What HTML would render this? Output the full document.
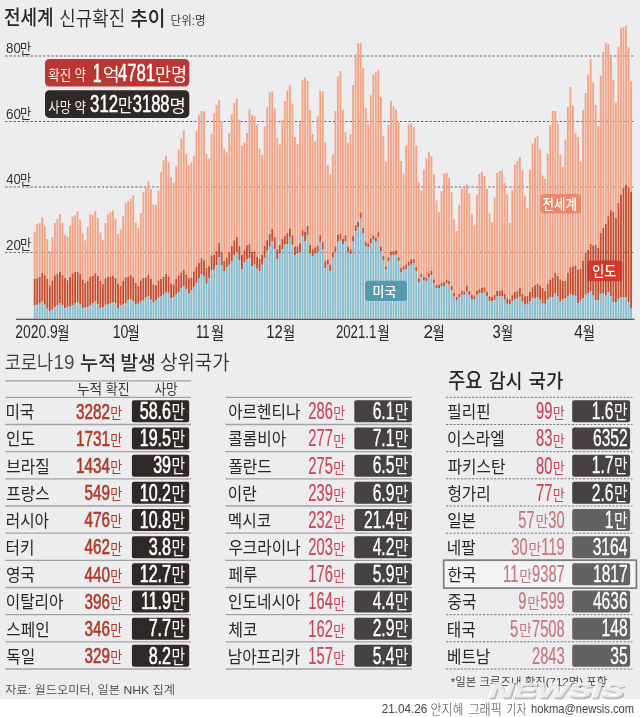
<!DOCTYPE html>
<html lang="ko"><head><meta charset="utf-8"><title>전세계 신규확진 추이</title>
<style>
html,body{margin:0;padding:0;background:#fff;}
body{width:640px;height:717px;overflow:hidden;position:relative;font-family:"Liberation Sans","Noto Sans CJK KR",sans-serif;}
#g{position:absolute;left:0;top:0;width:640px;height:698.8px;background:#ededef;}
svg{position:absolute;left:0;top:0;font-family:"Liberation Sans","Noto Sans CJK KR",sans-serif;}
</style></head><body>
<div id="g"></div>
<svg width="640" height="717" viewBox="0 0 640 717">
<line x1="5.2" y1="56.0" x2="635" y2="56.0" stroke="#656365" stroke-width="1.05" stroke-dasharray="2.3 1.9"/>
<line x1="5.2" y1="121.5" x2="635" y2="121.5" stroke="#656365" stroke-width="1.05" stroke-dasharray="2.3 1.9"/>
<line x1="5.2" y1="186.9" x2="635" y2="186.9" stroke="#656365" stroke-width="1.05" stroke-dasharray="2.3 1.9"/>
<line x1="5.2" y1="252.5" x2="635" y2="252.5" stroke="#656365" stroke-width="1.05" stroke-dasharray="2.3 1.9"/>
<path d="M33.75 231.7h1.85V279h-1.85zM36.28 223.9h1.85V278.3h-1.85zM38.80 223.1h1.85V276.7h-1.85zM41.33 217.2h1.85V273.1h-1.85zM43.86 226.6h1.85V275.2h-1.85zM46.39 239.0h1.85V278.75h-1.85zM48.91 251.0h1.85V285.8h-1.85zM51.44 236.9h1.85V280.6h-1.85zM53.97 223.0h1.85V275.6h-1.85zM56.49 218.8h1.85V273.9h-1.85zM59.02 214.0h1.85V271.7h-1.85zM61.55 222.7h1.85V275.2h-1.85zM64.08 234.8h1.85V278h-1.85zM66.60 236.7h1.85V280.2h-1.85zM69.13 226.0h1.85V277h-1.85zM71.66 216.4h1.85V273.3h-1.85zM74.18 215.3h1.85V272h-1.85zM76.71 211.4h1.85V271.7h-1.85zM79.24 219.4h1.85V274h-1.85zM81.76 233.3h1.85V279.8h-1.85zM84.29 240.6h1.85V283h-1.85zM86.82 227.0h1.85V281h-1.85zM89.35 214.4h1.85V276.4h-1.85zM91.87 214.8h1.85V276h-1.85zM94.40 211.0h1.85V273.3h-1.85zM96.93 218.0h1.85V276h-1.85zM99.45 232.5h1.85V281h-1.85zM101.98 240.3h1.85V284.2h-1.85zM104.51 223.0h1.85V278.3h-1.85zM107.04 214.2h1.85V277h-1.85zM109.56 211.9h1.85V276.7h-1.85zM112.09 210.6h1.85V276h-1.85zM114.62 218.4h1.85V278.3h-1.85zM117.14 233.8h1.85V283.75h-1.85zM119.67 229.4h1.85V286h-1.85zM122.20 216.0h1.85V281h-1.85zM124.73 203.0h1.85V277.2h-1.85zM127.25 201.0h1.85V276.7h-1.85zM129.78 199.0h1.85V275.2h-1.85zM132.31 195.4h1.85V277.5h-1.85zM134.83 222.8h1.85V283h-1.85zM137.36 227.9h1.85V286h-1.85zM139.89 213.0h1.85V280.6h-1.85zM142.42 192.2h1.85V278h-1.85zM144.94 186.5h1.85V277.5h-1.85zM147.47 181.6h1.85V274.7h-1.85zM150.00 189.0h1.85V279h-1.85zM152.52 204.4h1.85V284.5h-1.85zM155.05 205.0h1.85V285.3h-1.85zM157.58 190.6h1.85V280.6h-1.85zM160.10 172.2h1.85V279h-1.85zM162.63 160.2h1.85V277h-1.85zM165.16 155.9h1.85V274h-1.85zM167.69 162.2h1.85V276.4h-1.85zM170.21 176.9h1.85V283.75h-1.85zM172.74 182.5h1.85V284.5h-1.85zM175.27 166.2h1.85V279h-1.85zM177.79 149.7h1.85V275.6h-1.85zM180.32 138.3h1.85V272.5h-1.85zM182.85 130.2h1.85V270h-1.85zM185.38 153.9h1.85V274.4h-1.85zM187.90 164.8h1.85V278.3h-1.85zM190.43 162.5h1.85V277.5h-1.85zM192.96 155.8h1.85V271.6h-1.85zM195.48 131.2h1.85V266.9h-1.85zM198.01 114.8h1.85V263h-1.85zM200.54 110.9h1.85V258h-1.85zM203.07 111.2h1.85V260.3h-1.85zM205.59 153.9h1.85V268h-1.85zM208.12 158.6h1.85V266.25h-1.85zM210.65 134.0h1.85V255.6h-1.85zM213.17 113.3h1.85V254.8h-1.85zM215.70 104.7h1.85V251h-1.85zM218.23 100.3h1.85V242.7h-1.85zM220.76 121.0h1.85V252.3h-1.85zM223.28 148.8h1.85V261.25h-1.85zM225.81 152.4h1.85V257.8h-1.85zM228.34 133.5h1.85V252h-1.85zM230.86 114.2h1.85V246h-1.85zM233.39 103.0h1.85V240.3h-1.85zM235.92 98.6h1.85V237h-1.85zM238.45 119.4h1.85V246h-1.85zM240.97 145.9h1.85V254.7h-1.85zM243.50 142.5h1.85V250.3h-1.85zM246.03 133.1h1.85V245.3h-1.85zM248.55 109.2h1.85V244.2h-1.85zM251.08 115.0h1.85V252h-1.85zM253.61 116.2h1.85V251.6h-1.85zM256.13 124.8h1.85V257h-1.85zM258.66 148.8h1.85V258.6h-1.85zM261.19 155.0h1.85V254.7h-1.85zM263.72 126.4h1.85V246h-1.85zM266.24 107.3h1.85V240.2h-1.85zM268.77 92.5h1.85V233.9h-1.85zM271.30 91.2h1.85V228.9h-1.85zM273.82 108.4h1.85V237.2h-1.85zM276.35 138.1h1.85V249.2h-1.85zM278.88 144.4h1.85V245h-1.85zM281.41 120.2h1.85V239h-1.85zM283.93 101.1h1.85V235.9h-1.85zM286.46 90.2h1.85V233.1h-1.85zM288.99 85.3h1.85V228.4h-1.85zM291.51 103.4h1.85V235.2h-1.85zM294.04 137.0h1.85V246.6h-1.85zM296.57 144.0h1.85V246.6h-1.85zM299.10 122.5h1.85V243.3h-1.85zM301.62 80.3h1.85V230.2h-1.85zM304.15 77.5h1.85V232h-1.85zM306.68 81.1h1.85V226h-1.85zM309.20 110.0h1.85V244.8h-1.85zM311.73 134.0h1.85V249.2h-1.85zM314.26 141.2h1.85V247.3h-1.85zM316.79 116.5h1.85V245.6h-1.85zM319.31 90.7h1.85V235.2h-1.85zM321.84 91.4h1.85V242.2h-1.85zM324.37 142.0h1.85V261.25h-1.85zM326.89 165.2h1.85V259.4h-1.85zM329.42 174.0h1.85V264.4h-1.85zM331.95 154.2h1.85V252.7h-1.85zM334.47 110.9h1.85V246.4h-1.85zM337.00 76.4h1.85V234.7h-1.85zM339.53 71.1h1.85V233.6h-1.85zM342.06 109.7h1.85V239h-1.85zM344.58 132.0h1.85V235.2h-1.85zM347.11 142.8h1.85V246.9h-1.85zM349.64 134.3h1.85V249.2h-1.85zM352.16 85.0h1.85V236.25h-1.85zM354.69 54.2h1.85V225.3h-1.85zM357.22 43.3h1.85V221.9h-1.85zM359.75 43.3h1.85V212.5h-1.85zM362.27 68.0h1.85V228.1h-1.85zM364.80 108.1h1.85V241.7h-1.85zM367.33 124.6h1.85V243.3h-1.85zM369.85 95.2h1.85V238.6h-1.85zM372.38 74.5h1.85V235.5h-1.85zM374.91 72.2h1.85V237.5h-1.85zM377.44 70.2h1.85V232.3h-1.85zM379.96 97.2h1.85V246.6h-1.85zM382.49 136.2h1.85V256.25h-1.85zM385.02 161.6h1.85V266.4h-1.85zM387.54 125.0h1.85V257.3h-1.85zM390.07 100.8h1.85V251.6h-1.85zM392.60 106.2h1.85V251.25h-1.85zM395.13 109.4h1.85V250.3h-1.85zM397.65 121.7h1.85V257.3h-1.85zM400.18 160.9h1.85V268.1h-1.85zM402.71 173.8h1.85V266.25h-1.85zM405.23 145.5h1.85V264.7h-1.85zM407.76 124.6h1.85V261.9h-1.85zM410.29 123.4h1.85V259.2h-1.85zM412.81 126.9h1.85V259.2h-1.85zM415.34 145.3h1.85V267h-1.85zM417.87 182.0h1.85V278.3h-1.85zM420.40 190.2h1.85V274h-1.85zM422.92 169.8h1.85V277h-1.85zM425.45 158.3h1.85V277.5h-1.85zM427.98 151.9h1.85V273.3h-1.85zM430.50 155.9h1.85V270.8h-1.85zM433.03 174.2h1.85V279.4h-1.85zM435.56 200.5h1.85V284.8h-1.85zM438.09 211.9h1.85V284.8h-1.85zM440.61 190.9h1.85V283h-1.85zM443.14 173.4h1.85V282.2h-1.85zM445.67 172.7h1.85V279.8h-1.85zM448.19 178.1h1.85V281h-1.85zM450.72 192.2h1.85V286h-1.85zM453.25 219.2h1.85V292.7h-1.85zM455.78 231.0h1.85V297h-1.85zM458.30 204.8h1.85V294h-1.85zM460.83 188.6h1.85V291h-1.85zM463.36 186.7h1.85V291.5h-1.85zM465.88 184.4h1.85V286h-1.85zM468.41 193.0h1.85V291h-1.85zM470.94 214.0h1.85V295h-1.85zM473.47 224.7h1.85V295.8h-1.85zM475.99 194.8h1.85V290.8h-1.85zM478.52 173.9h1.85V289.2h-1.85zM481.05 171.9h1.85V288h-1.85zM483.57 176.1h1.85V287.2h-1.85zM486.10 189.0h1.85V292h-1.85zM488.63 213.4h1.85V296.25h-1.85zM491.16 222.0h1.85V297h-1.85zM493.68 197.2h1.85V295h-1.85zM496.21 173.0h1.85V291h-1.85zM498.74 171.1h1.85V291h-1.85zM501.26 170.6h1.85V290.3h-1.85zM503.79 183.3h1.85V293.9h-1.85zM506.32 194.5h1.85V298.6h-1.85zM508.84 223.0h1.85V299.4h-1.85zM511.37 189.8h1.85V295.2h-1.85zM513.90 164.8h1.85V291.9h-1.85zM516.43 160.9h1.85V291.25h-1.85zM518.95 157.3h1.85V287.7h-1.85zM521.48 170.3h1.85V293.9h-1.85zM524.01 195.6h1.85V296.25h-1.85zM526.53 207.8h1.85V296h-1.85zM529.06 169.5h1.85V292h-1.85zM531.59 143.4h1.85V287.2h-1.85zM534.12 138.3h1.85V285.3h-1.85zM536.64 136.2h1.85V283.75h-1.85zM539.17 149.2h1.85V285.6h-1.85zM541.70 175.5h1.85V288h-1.85zM544.22 178.9h1.85V291h-1.85zM546.75 153.4h1.85V283.75h-1.85zM549.28 125.0h1.85V279.8h-1.85zM551.81 110.9h1.85V278h-1.85zM554.33 110.9h1.85V273h-1.85zM556.86 123.8h1.85V276h-1.85zM559.39 154.4h1.85V279.4h-1.85zM561.91 166.9h1.85V281h-1.85zM564.44 139.4h1.85V281h-1.85zM566.97 106.7h1.85V272.8h-1.85zM569.50 87.0h1.85V267.3h-1.85zM572.02 105.3h1.85V266.25h-1.85zM574.55 133.1h1.85V265.5h-1.85zM577.08 137.0h1.85V269.7h-1.85zM579.60 161.4h1.85V269h-1.85zM582.13 110.3h1.85V261h-1.85zM584.66 93.0h1.85V253h-1.85zM587.18 74.7h1.85V250h-1.85zM589.71 59.0h1.85V244h-1.85zM592.24 82.5h1.85V245.6h-1.85zM594.77 105.0h1.85V244.75h-1.85zM597.29 126.0h1.85V248h-1.85zM599.82 75.5h1.85V233h-1.85zM602.35 52.0h1.85V228h-1.85zM604.87 42.7h1.85V224h-1.85zM607.40 44.0h1.85V216h-1.85zM609.93 56.0h1.85V210.25h-1.85zM612.46 79.7h1.85V212h-1.85zM614.98 102.5h1.85V218h-1.85zM617.51 46.6h1.85V203h-1.85zM620.04 28.0h1.85V194.4h-1.85zM622.56 27.0h1.85V188h-1.85zM625.09 25.5h1.85V184.4h-1.85zM627.62 47.3h1.85V187.5h-1.85zM630.15 81.3h1.85V191.9h-1.85z" fill="#f4a385"/>
<path d="M33.75 279.0h1.85V305.3h-1.85zM36.28 278.3h1.85V304.8h-1.85zM38.80 276.7h1.85V303.6h-1.85zM41.33 273.1h1.85V301.4h-1.85zM43.86 275.2h1.85V304.8h-1.85zM46.39 278.8h1.85V308.75h-1.85zM48.91 285.8h1.85V311h-1.85zM51.44 280.6h1.85V309.8h-1.85zM53.97 275.6h1.85V306.9h-1.85zM56.49 273.9h1.85V305.6h-1.85zM59.02 271.7h1.85V303.3h-1.85zM61.55 275.2h1.85V305.6h-1.85zM64.08 278.0h1.85V308.3h-1.85zM66.60 280.2h1.85V306.7h-1.85zM69.13 277.0h1.85V306.7h-1.85zM71.66 273.3h1.85V305.6h-1.85zM74.18 272.0h1.85V303.6h-1.85zM76.71 271.7h1.85V302h-1.85zM79.24 274.0h1.85V304h-1.85zM81.76 279.8h1.85V308h-1.85zM84.29 283.0h1.85V307.5h-1.85zM86.82 281.0h1.85V306.9h-1.85zM89.35 276.4h1.85V305.2h-1.85zM91.87 276.0h1.85V303.6h-1.85zM94.40 273.3h1.85V300.9h-1.85zM96.93 276.0h1.85V304h-1.85zM99.45 281.0h1.85V308.3h-1.85zM101.98 284.2h1.85V307.2h-1.85zM104.51 278.3h1.85V304.8h-1.85zM107.04 277.0h1.85V304.5h-1.85zM109.56 276.7h1.85V303.3h-1.85zM112.09 276.0h1.85V302h-1.85zM114.62 278.3h1.85V303.3h-1.85zM117.14 283.8h1.85V308h-1.85zM119.67 286.0h1.85V305.6h-1.85zM122.20 281.0h1.85V304.5h-1.85zM124.73 277.2h1.85V303h-1.85zM127.25 276.7h1.85V300.2h-1.85zM129.78 275.2h1.85V299.4h-1.85zM132.31 277.5h1.85V301h-1.85zM134.83 283.0h1.85V304.8h-1.85zM137.36 286.0h1.85V303.75h-1.85zM139.89 280.6h1.85V301h-1.85zM142.42 278.0h1.85V300.2h-1.85zM144.94 277.5h1.85V297h-1.85zM147.47 274.7h1.85V296h-1.85zM150.00 279.0h1.85V299.8h-1.85zM152.52 284.5h1.85V302.5h-1.85zM155.05 285.3h1.85V300.2h-1.85zM157.58 280.6h1.85V297.8h-1.85zM160.10 279.0h1.85V296.6h-1.85zM162.63 277.0h1.85V294.7h-1.85zM165.16 274.0h1.85V291.9h-1.85zM167.69 276.4h1.85V292.7h-1.85zM170.21 283.8h1.85V298.6h-1.85zM172.74 284.5h1.85V297h-1.85zM175.27 279.0h1.85V293.9h-1.85zM177.79 275.6h1.85V292h-1.85zM180.32 272.5h1.85V288.4h-1.85zM182.85 270.0h1.85V286h-1.85zM185.38 274.4h1.85V289.2h-1.85zM187.90 278.3h1.85V293.6h-1.85zM190.43 277.5h1.85V290.5h-1.85zM192.96 271.6h1.85V286.9h-1.85zM195.48 266.9h1.85V283h-1.85zM198.01 263.0h1.85V278.3h-1.85zM200.54 258.0h1.85V274.4h-1.85zM203.07 260.3h1.85V276h-1.85zM205.59 268.0h1.85V283.75h-1.85zM208.12 266.2h1.85V278.3h-1.85zM210.65 255.6h1.85V270h-1.85zM213.17 254.8h1.85V269.7h-1.85zM215.70 251.0h1.85V265h-1.85zM218.23 242.7h1.85V257.2h-1.85zM220.76 252.3h1.85V265.6h-1.85zM223.28 261.2h1.85V271h-1.85zM225.81 257.8h1.85V267.2h-1.85zM228.34 252.0h1.85V264.8h-1.85zM230.86 246.0h1.85V261h-1.85zM233.39 240.3h1.85V255.5h-1.85zM235.92 237.0h1.85V252.3h-1.85zM238.45 246.0h1.85V260h-1.85zM240.97 254.7h1.85V269.5h-1.85zM243.50 250.3h1.85V262h-1.85zM246.03 245.3h1.85V259.4h-1.85zM248.55 244.2h1.85V258.6h-1.85zM251.08 252.0h1.85V266h-1.85zM253.61 251.6h1.85V264.8h-1.85zM256.13 257.0h1.85V268.75h-1.85zM258.66 258.6h1.85V271h-1.85zM261.19 254.7h1.85V264.8h-1.85zM263.72 246.0h1.85V257.8h-1.85zM266.24 240.2h1.85V250.8h-1.85zM268.77 233.9h1.85V246h-1.85zM271.30 228.9h1.85V241h-1.85zM273.82 237.2h1.85V249.2h-1.85zM276.35 249.2h1.85V259h-1.85zM278.88 245.0h1.85V253.6h-1.85zM281.41 239.0h1.85V249.2h-1.85zM283.93 235.9h1.85V244.5h-1.85zM286.46 233.1h1.85V244.5h-1.85zM288.99 228.4h1.85V237.5h-1.85zM291.51 235.2h1.85V244.8h-1.85zM294.04 246.6h1.85V255.5h-1.85zM296.57 246.6h1.85V253.4h-1.85zM299.10 243.3h1.85V252h-1.85zM301.62 230.2h1.85V236.25h-1.85zM304.15 232.0h1.85V241h-1.85zM306.68 226.0h1.85V235.2h-1.85zM309.20 244.8h1.85V253h-1.85zM311.73 249.2h1.85V256h-1.85zM314.26 247.3h1.85V253h-1.85zM316.79 245.6h1.85V252.3h-1.85zM319.31 235.2h1.85V242.2h-1.85zM321.84 242.2h1.85V249.7h-1.85zM324.37 261.2h1.85V268.3h-1.85zM326.89 259.4h1.85V264.8h-1.85zM329.42 264.4h1.85V271h-1.85zM331.95 252.7h1.85V257.8h-1.85zM334.47 246.4h1.85V252.3h-1.85zM337.00 234.7h1.85V241.7h-1.85zM339.53 233.6h1.85V239.8h-1.85zM342.06 239.0h1.85V244h-1.85zM344.58 235.2h1.85V241.4h-1.85zM347.11 246.9h1.85V252h-1.85zM349.64 249.2h1.85V254h-1.85zM352.16 236.2h1.85V241.4h-1.85zM354.69 225.3h1.85V231.25h-1.85zM357.22 221.9h1.85V226.9h-1.85zM359.75 212.5h1.85V218.4h-1.85zM362.27 228.1h1.85V233.6h-1.85zM364.80 241.7h1.85V246.4h-1.85zM367.33 243.3h1.85V247.3h-1.85zM369.85 238.6h1.85V243h-1.85zM372.38 235.5h1.85V239.8h-1.85zM374.91 237.5h1.85V241.7h-1.85zM377.44 232.3h1.85V237h-1.85zM379.96 246.6h1.85V251.25h-1.85zM382.49 256.2h1.85V260.2h-1.85zM385.02 266.4h1.85V269.5h-1.85zM387.54 257.3h1.85V261.25h-1.85zM390.07 251.6h1.85V255.5h-1.85zM392.60 251.2h1.85V255h-1.85zM395.13 250.3h1.85V254.7h-1.85zM397.65 257.3h1.85V261.25h-1.85zM400.18 268.1h1.85V272h-1.85zM402.71 266.2h1.85V269.7h-1.85zM405.23 264.7h1.85V269h-1.85zM407.76 261.9h1.85V265.8h-1.85zM410.29 259.2h1.85V264.7h-1.85zM412.81 259.2h1.85V263h-1.85zM415.34 267.0h1.85V271h-1.85zM417.87 278.3h1.85V282.2h-1.85zM420.40 274.0h1.85V277.2h-1.85zM422.92 277.0h1.85V280.6h-1.85zM425.45 277.5h1.85V281.4h-1.85zM427.98 273.3h1.85V277.2h-1.85zM430.50 270.8h1.85V275.2h-1.85zM433.03 279.4h1.85V283.3h-1.85zM435.56 284.8h1.85V288.4h-1.85zM438.09 284.8h1.85V288h-1.85zM440.61 283.0h1.85V286h-1.85zM443.14 282.2h1.85V286h-1.85zM445.67 279.8h1.85V283.3h-1.85zM448.19 281.0h1.85V284.8h-1.85zM450.72 286.0h1.85V290h-1.85zM453.25 292.7h1.85V296.7h-1.85zM455.78 297.0h1.85V300.2h-1.85zM458.30 294.0h1.85V297.3h-1.85zM460.83 291.0h1.85V294.7h-1.85zM463.36 291.5h1.85V295.2h-1.85zM465.88 286.0h1.85V291h-1.85zM468.41 291.0h1.85V295.2h-1.85zM470.94 295.0h1.85V299.4h-1.85zM473.47 295.8h1.85V299.8h-1.85zM475.99 290.8h1.85V294.7h-1.85zM478.52 289.2h1.85V293.6h-1.85zM481.05 288.0h1.85V293h-1.85zM483.57 287.2h1.85V292.3h-1.85zM486.10 292.0h1.85V296.6h-1.85zM488.63 296.2h1.85V301h-1.85zM491.16 297.0h1.85V301.25h-1.85zM493.68 295.0h1.85V300.2h-1.85zM496.21 291.0h1.85V296.6h-1.85zM498.74 291.0h1.85V296.6h-1.85zM501.26 290.3h1.85V296.25h-1.85zM503.79 293.9h1.85V299.8h-1.85zM506.32 298.6h1.85V303.75h-1.85zM508.84 299.4h1.85V304.4h-1.85zM511.37 295.2h1.85V301h-1.85zM513.90 291.9h1.85V298.9h-1.85zM516.43 291.2h1.85V298.6h-1.85zM518.95 287.7h1.85V296.7h-1.85zM521.48 293.9h1.85V301.7h-1.85zM524.01 296.2h1.85V304.8h-1.85zM526.53 296.0h1.85V303.75h-1.85zM529.06 292.0h1.85V301h-1.85zM531.59 287.2h1.85V298.6h-1.85zM534.12 285.3h1.85V298.6h-1.85zM536.64 283.8h1.85V297.3h-1.85zM539.17 285.6h1.85V299.8h-1.85zM541.70 288.0h1.85V303.6h-1.85zM544.22 291.0h1.85V303.75h-1.85zM546.75 283.8h1.85V299.4h-1.85zM549.28 279.8h1.85V297h-1.85zM551.81 278.0h1.85V297h-1.85zM554.33 273.0h1.85V293.6h-1.85zM556.86 276.0h1.85V296.25h-1.85zM559.39 279.4h1.85V301.7h-1.85zM561.91 281.0h1.85V299.4h-1.85zM564.44 281.0h1.85V298.6h-1.85zM566.97 272.8h1.85V296h-1.85zM569.50 267.3h1.85V293.9h-1.85zM572.02 266.2h1.85V295h-1.85zM574.55 265.5h1.85V295.8h-1.85zM577.08 269.7h1.85V303.3h-1.85zM579.60 269.0h1.85V300.6h-1.85zM582.13 261.0h1.85V298.6h-1.85zM584.66 253.0h1.85V294.75h-1.85zM587.18 250.0h1.85V292.9h-1.85zM589.71 244.0h1.85V291.25h-1.85zM592.24 245.6h1.85V295.6h-1.85zM594.77 244.8h1.85V300h-1.85zM597.29 248.0h1.85V300.4h-1.85zM599.82 233.0h1.85V293.75h-1.85zM602.35 228.0h1.85V293.4h-1.85zM604.87 224.0h1.85V295h-1.85zM607.40 216.0h1.85V292.25h-1.85zM609.93 210.2h1.85V296h-1.85zM612.46 212.0h1.85V301.9h-1.85zM614.98 218.0h1.85V301.9h-1.85zM617.51 203.0h1.85V299h-1.85zM620.04 194.4h1.85V297.5h-1.85zM622.56 188.0h1.85V296.9h-1.85zM625.09 184.4h1.85V297.25h-1.85zM627.62 187.5h1.85V301.9h-1.85zM630.15 191.9h1.85V307.9h-1.85z" fill="#c84b2b"/>
<path d="M33.75 305.3h1.85V318.6h-1.85zM36.28 304.8h1.85V318.6h-1.85zM38.80 303.6h1.85V318.6h-1.85zM41.33 301.4h1.85V318.6h-1.85zM43.86 304.8h1.85V318.6h-1.85zM46.39 308.8h1.85V318.6h-1.85zM48.91 311.0h1.85V318.6h-1.85zM51.44 309.8h1.85V318.6h-1.85zM53.97 306.9h1.85V318.6h-1.85zM56.49 305.6h1.85V318.6h-1.85zM59.02 303.3h1.85V318.6h-1.85zM61.55 305.6h1.85V318.6h-1.85zM64.08 308.3h1.85V318.6h-1.85zM66.60 306.7h1.85V318.6h-1.85zM69.13 306.7h1.85V318.6h-1.85zM71.66 305.6h1.85V318.6h-1.85zM74.18 303.6h1.85V318.6h-1.85zM76.71 302.0h1.85V318.6h-1.85zM79.24 304.0h1.85V318.6h-1.85zM81.76 308.0h1.85V318.6h-1.85zM84.29 307.5h1.85V318.6h-1.85zM86.82 306.9h1.85V318.6h-1.85zM89.35 305.2h1.85V318.6h-1.85zM91.87 303.6h1.85V318.6h-1.85zM94.40 300.9h1.85V318.6h-1.85zM96.93 304.0h1.85V318.6h-1.85zM99.45 308.3h1.85V318.6h-1.85zM101.98 307.2h1.85V318.6h-1.85zM104.51 304.8h1.85V318.6h-1.85zM107.04 304.5h1.85V318.6h-1.85zM109.56 303.3h1.85V318.6h-1.85zM112.09 302.0h1.85V318.6h-1.85zM114.62 303.3h1.85V318.6h-1.85zM117.14 308.0h1.85V318.6h-1.85zM119.67 305.6h1.85V318.6h-1.85zM122.20 304.5h1.85V318.6h-1.85zM124.73 303.0h1.85V318.6h-1.85zM127.25 300.2h1.85V318.6h-1.85zM129.78 299.4h1.85V318.6h-1.85zM132.31 301.0h1.85V318.6h-1.85zM134.83 304.8h1.85V318.6h-1.85zM137.36 303.8h1.85V318.6h-1.85zM139.89 301.0h1.85V318.6h-1.85zM142.42 300.2h1.85V318.6h-1.85zM144.94 297.0h1.85V318.6h-1.85zM147.47 296.0h1.85V318.6h-1.85zM150.00 299.8h1.85V318.6h-1.85zM152.52 302.5h1.85V318.6h-1.85zM155.05 300.2h1.85V318.6h-1.85zM157.58 297.8h1.85V318.6h-1.85zM160.10 296.6h1.85V318.6h-1.85zM162.63 294.7h1.85V318.6h-1.85zM165.16 291.9h1.85V318.6h-1.85zM167.69 292.7h1.85V318.6h-1.85zM170.21 298.6h1.85V318.6h-1.85zM172.74 297.0h1.85V318.6h-1.85zM175.27 293.9h1.85V318.6h-1.85zM177.79 292.0h1.85V318.6h-1.85zM180.32 288.4h1.85V318.6h-1.85zM182.85 286.0h1.85V318.6h-1.85zM185.38 289.2h1.85V318.6h-1.85zM187.90 293.6h1.85V318.6h-1.85zM190.43 290.5h1.85V318.6h-1.85zM192.96 286.9h1.85V318.6h-1.85zM195.48 283.0h1.85V318.6h-1.85zM198.01 278.3h1.85V318.6h-1.85zM200.54 274.4h1.85V318.6h-1.85zM203.07 276.0h1.85V318.6h-1.85zM205.59 283.8h1.85V318.6h-1.85zM208.12 278.3h1.85V318.6h-1.85zM210.65 270.0h1.85V318.6h-1.85zM213.17 269.7h1.85V318.6h-1.85zM215.70 265.0h1.85V318.6h-1.85zM218.23 257.2h1.85V318.6h-1.85zM220.76 265.6h1.85V318.6h-1.85zM223.28 271.0h1.85V318.6h-1.85zM225.81 267.2h1.85V318.6h-1.85zM228.34 264.8h1.85V318.6h-1.85zM230.86 261.0h1.85V318.6h-1.85zM233.39 255.5h1.85V318.6h-1.85zM235.92 252.3h1.85V318.6h-1.85zM238.45 260.0h1.85V318.6h-1.85zM240.97 269.5h1.85V318.6h-1.85zM243.50 262.0h1.85V318.6h-1.85zM246.03 259.4h1.85V318.6h-1.85zM248.55 258.6h1.85V318.6h-1.85zM251.08 266.0h1.85V318.6h-1.85zM253.61 264.8h1.85V318.6h-1.85zM256.13 268.8h1.85V318.6h-1.85zM258.66 271.0h1.85V318.6h-1.85zM261.19 264.8h1.85V318.6h-1.85zM263.72 257.8h1.85V318.6h-1.85zM266.24 250.8h1.85V318.6h-1.85zM268.77 246.0h1.85V318.6h-1.85zM271.30 241.0h1.85V318.6h-1.85zM273.82 249.2h1.85V318.6h-1.85zM276.35 259.0h1.85V318.6h-1.85zM278.88 253.6h1.85V318.6h-1.85zM281.41 249.2h1.85V318.6h-1.85zM283.93 244.5h1.85V318.6h-1.85zM286.46 244.5h1.85V318.6h-1.85zM288.99 237.5h1.85V318.6h-1.85zM291.51 244.8h1.85V318.6h-1.85zM294.04 255.5h1.85V318.6h-1.85zM296.57 253.4h1.85V318.6h-1.85zM299.10 252.0h1.85V318.6h-1.85zM301.62 236.2h1.85V318.6h-1.85zM304.15 241.0h1.85V318.6h-1.85zM306.68 235.2h1.85V318.6h-1.85zM309.20 253.0h1.85V318.6h-1.85zM311.73 256.0h1.85V318.6h-1.85zM314.26 253.0h1.85V318.6h-1.85zM316.79 252.3h1.85V318.6h-1.85zM319.31 242.2h1.85V318.6h-1.85zM321.84 249.7h1.85V318.6h-1.85zM324.37 268.3h1.85V318.6h-1.85zM326.89 264.8h1.85V318.6h-1.85zM329.42 271.0h1.85V318.6h-1.85zM331.95 257.8h1.85V318.6h-1.85zM334.47 252.3h1.85V318.6h-1.85zM337.00 241.7h1.85V318.6h-1.85zM339.53 239.8h1.85V318.6h-1.85zM342.06 244.0h1.85V318.6h-1.85zM344.58 241.4h1.85V318.6h-1.85zM347.11 252.0h1.85V318.6h-1.85zM349.64 254.0h1.85V318.6h-1.85zM352.16 241.4h1.85V318.6h-1.85zM354.69 231.2h1.85V318.6h-1.85zM357.22 226.9h1.85V318.6h-1.85zM359.75 218.4h1.85V318.6h-1.85zM362.27 233.6h1.85V318.6h-1.85zM364.80 246.4h1.85V318.6h-1.85zM367.33 247.3h1.85V318.6h-1.85zM369.85 243.0h1.85V318.6h-1.85zM372.38 239.8h1.85V318.6h-1.85zM374.91 241.7h1.85V318.6h-1.85zM377.44 237.0h1.85V318.6h-1.85zM379.96 251.2h1.85V318.6h-1.85zM382.49 260.2h1.85V318.6h-1.85zM385.02 269.5h1.85V318.6h-1.85zM387.54 261.2h1.85V318.6h-1.85zM390.07 255.5h1.85V318.6h-1.85zM392.60 255.0h1.85V318.6h-1.85zM395.13 254.7h1.85V318.6h-1.85zM397.65 261.2h1.85V318.6h-1.85zM400.18 272.0h1.85V318.6h-1.85zM402.71 269.7h1.85V318.6h-1.85zM405.23 269.0h1.85V318.6h-1.85zM407.76 265.8h1.85V318.6h-1.85zM410.29 264.7h1.85V318.6h-1.85zM412.81 263.0h1.85V318.6h-1.85zM415.34 271.0h1.85V318.6h-1.85zM417.87 282.2h1.85V318.6h-1.85zM420.40 277.2h1.85V318.6h-1.85zM422.92 280.6h1.85V318.6h-1.85zM425.45 281.4h1.85V318.6h-1.85zM427.98 277.2h1.85V318.6h-1.85zM430.50 275.2h1.85V318.6h-1.85zM433.03 283.3h1.85V318.6h-1.85zM435.56 288.4h1.85V318.6h-1.85zM438.09 288.0h1.85V318.6h-1.85zM440.61 286.0h1.85V318.6h-1.85zM443.14 286.0h1.85V318.6h-1.85zM445.67 283.3h1.85V318.6h-1.85zM448.19 284.8h1.85V318.6h-1.85zM450.72 290.0h1.85V318.6h-1.85zM453.25 296.7h1.85V318.6h-1.85zM455.78 300.2h1.85V318.6h-1.85zM458.30 297.3h1.85V318.6h-1.85zM460.83 294.7h1.85V318.6h-1.85zM463.36 295.2h1.85V318.6h-1.85zM465.88 291.0h1.85V318.6h-1.85zM468.41 295.2h1.85V318.6h-1.85zM470.94 299.4h1.85V318.6h-1.85zM473.47 299.8h1.85V318.6h-1.85zM475.99 294.7h1.85V318.6h-1.85zM478.52 293.6h1.85V318.6h-1.85zM481.05 293.0h1.85V318.6h-1.85zM483.57 292.3h1.85V318.6h-1.85zM486.10 296.6h1.85V318.6h-1.85zM488.63 301.0h1.85V318.6h-1.85zM491.16 301.2h1.85V318.6h-1.85zM493.68 300.2h1.85V318.6h-1.85zM496.21 296.6h1.85V318.6h-1.85zM498.74 296.6h1.85V318.6h-1.85zM501.26 296.2h1.85V318.6h-1.85zM503.79 299.8h1.85V318.6h-1.85zM506.32 303.8h1.85V318.6h-1.85zM508.84 304.4h1.85V318.6h-1.85zM511.37 301.0h1.85V318.6h-1.85zM513.90 298.9h1.85V318.6h-1.85zM516.43 298.6h1.85V318.6h-1.85zM518.95 296.7h1.85V318.6h-1.85zM521.48 301.7h1.85V318.6h-1.85zM524.01 304.8h1.85V318.6h-1.85zM526.53 303.8h1.85V318.6h-1.85zM529.06 301.0h1.85V318.6h-1.85zM531.59 298.6h1.85V318.6h-1.85zM534.12 298.6h1.85V318.6h-1.85zM536.64 297.3h1.85V318.6h-1.85zM539.17 299.8h1.85V318.6h-1.85zM541.70 303.6h1.85V318.6h-1.85zM544.22 303.8h1.85V318.6h-1.85zM546.75 299.4h1.85V318.6h-1.85zM549.28 297.0h1.85V318.6h-1.85zM551.81 297.0h1.85V318.6h-1.85zM554.33 293.6h1.85V318.6h-1.85zM556.86 296.2h1.85V318.6h-1.85zM559.39 301.7h1.85V318.6h-1.85zM561.91 299.4h1.85V318.6h-1.85zM564.44 298.6h1.85V318.6h-1.85zM566.97 296.0h1.85V318.6h-1.85zM569.50 293.9h1.85V318.6h-1.85zM572.02 295.0h1.85V318.6h-1.85zM574.55 295.8h1.85V318.6h-1.85zM577.08 303.3h1.85V318.6h-1.85zM579.60 300.6h1.85V318.6h-1.85zM582.13 298.6h1.85V318.6h-1.85zM584.66 294.8h1.85V318.6h-1.85zM587.18 292.9h1.85V318.6h-1.85zM589.71 291.2h1.85V318.6h-1.85zM592.24 295.6h1.85V318.6h-1.85zM594.77 300.0h1.85V318.6h-1.85zM597.29 300.4h1.85V318.6h-1.85zM599.82 293.8h1.85V318.6h-1.85zM602.35 293.4h1.85V318.6h-1.85zM604.87 295.0h1.85V318.6h-1.85zM607.40 292.2h1.85V318.6h-1.85zM609.93 296.0h1.85V318.6h-1.85zM612.46 301.9h1.85V318.6h-1.85zM614.98 301.9h1.85V318.6h-1.85zM617.51 299.0h1.85V318.6h-1.85zM620.04 297.5h1.85V318.6h-1.85zM622.56 296.9h1.85V318.6h-1.85zM625.09 297.2h1.85V318.6h-1.85zM627.62 301.9h1.85V318.6h-1.85zM630.15 307.9h1.85V318.6h-1.85z" fill="#86bccd"/>
<line x1="16" y1="319.3" x2="634.5" y2="319.3" stroke="#2b2523" stroke-width="1.1"/>
<text transform="translate(6.07 53.45) scale(0.874 1)" font-size="15.24" font-weight="400" fill="#3a302e">80</text>
<text transform="translate(20.06 54.03) scale(0.845 1)" font-size="14.49" font-weight="400" fill="#3a302e">만</text>
<text transform="translate(5.93 118.90) scale(0.876 1)" font-size="15.35" font-weight="400" fill="#3a302e">60</text>
<text transform="translate(20.06 119.48) scale(0.845 1)" font-size="14.49" font-weight="400" fill="#3a302e">만</text>
<text transform="translate(6.34 184.35) scale(0.851 1)" font-size="15.35" font-weight="400" fill="#3a302e">40</text>
<text transform="translate(20.06 184.93) scale(0.845 1)" font-size="14.49" font-weight="400" fill="#3a302e">만</text>
<text transform="translate(5.93 249.80) scale(0.876 1)" font-size="15.35" font-weight="400" fill="#3a302e">20</text>
<text transform="translate(20.06 250.38) scale(0.845 1)" font-size="14.49" font-weight="400" fill="#3a302e">만</text>
<text transform="translate(15.30 338.22) scale(0.790 1)" font-size="17.61" font-weight="400" fill="#2b2523">2020.9</text>
<text transform="translate(57.20 338.72) scale(0.787 1)" font-size="16.89" font-weight="400" fill="#2b2523">월</text>
<text transform="translate(112.64 338.22) scale(0.806 1)" font-size="17.61" font-weight="400" fill="#2b2523">10</text>
<text transform="translate(127.60 338.72) scale(0.787 1)" font-size="16.89" font-weight="400" fill="#2b2523">월</text>
<text transform="translate(195.92 338.40) scale(0.722 1)" font-size="18.12" font-weight="400" fill="#2b2523">11</text>
<text transform="translate(210.96 338.72) scale(0.848 1)" font-size="16.89" font-weight="400" fill="#2b2523">월</text>
<text transform="translate(266.19 338.40) scale(0.831 1)" font-size="17.86" font-weight="400" fill="#2b2523">12</text>
<text transform="translate(283.10 338.72) scale(0.787 1)" font-size="16.89" font-weight="400" fill="#2b2523">월</text>
<text transform="translate(335.94 338.22) scale(0.748 1)" font-size="17.61" font-weight="400" fill="#2b2523">2021.1</text>
<text transform="translate(377.60 338.72) scale(0.787 1)" font-size="16.89" font-weight="400" fill="#2b2523">월</text>
<text transform="translate(423.44 338.40) scale(0.962 1)" font-size="17.86" font-weight="400" fill="#2b2523">2</text>
<text transform="translate(432.50 338.72) scale(0.787 1)" font-size="16.89" font-weight="400" fill="#2b2523">월</text>
<text transform="translate(492.38 338.22) scale(0.840 1)" font-size="17.61" font-weight="400" fill="#2b2523">3</text>
<text transform="translate(500.90 338.72) scale(0.787 1)" font-size="16.89" font-weight="400" fill="#2b2523">월</text>
<text transform="translate(574.29 338.31) scale(0.861 1)" font-size="17.99" font-weight="400" fill="#2b2523">4</text>
<text transform="translate(582.85 338.72) scale(0.787 1)" font-size="16.89" font-weight="400" fill="#2b2523">월</text>
<rect x="540.5" y="194" width="40.5" height="19.6" rx="3.5" fill="#e97c5f" fill-opacity="0.8"/>
<text transform="translate(542.60 208.57) scale(0.940 1)" font-size="13.26" font-weight="500" fill="#fff">전세계</text>
<rect x="365" y="280.8" width="42" height="20.2" rx="3.5" fill="#4a94a9" fill-opacity="0.88"/>
<text transform="translate(372.58 296.07) scale(1.041 1)" font-size="12.54" font-weight="500" fill="#fff">미국</text>
<rect x="587" y="260.6" width="35.3" height="20.6" rx="3.5" fill="#d2362a" fill-opacity="0.93"/>
<text transform="translate(592.32 276.37) scale(0.953 1)" font-size="13.61" font-weight="500" fill="#fff">인도</text>
<text transform="translate(3.98 25.47) scale(0.885 1)" font-size="20.33" font-weight="500" fill="#2b2523">전세계</text>
<text transform="translate(59.32 25.76) scale(0.872 1)" font-size="20.55" font-weight="350" fill="#2f2a29">신규확진</text>
<text transform="translate(130.13 25.54) scale(0.930 1)" font-size="20.70" font-weight="500" fill="#2b2523">추이</text>
<text transform="translate(170.57 25.06) scale(0.939 1)" font-size="12.24" font-weight="400" fill="#3a3432">단위:명</text>
<rect x="45" y="59" width="144.3" height="27.6" rx="4.5" fill="#b93733"/>
<rect x="45" y="90.3" width="144.3" height="27.6" rx="4.5" fill="#2e2826"/>
<text transform="translate(48.25 80.40) scale(0.883 1)" font-size="14.16" font-weight="400" fill="#fde9e6">확진</text>
<text transform="translate(74.59 80.38) scale(0.869 1)" font-size="14.32" font-weight="400" fill="#fde9e6">약</text>
<text transform="translate(92.74 81.55) scale(0.640 1)" font-size="25.00" font-weight="400" fill="#fff" stroke="#fff" stroke-width="0.5" stroke-linejoin="round" vector-effect="non-scaling-stroke">1</text>
<text transform="translate(102.64 81.04) scale(1.004 1)" font-size="18.36" font-weight="400" fill="#fff">억</text>
<text transform="translate(118.07 81.46) scale(0.680 1)" font-size="24.48" font-weight="400" fill="#fff" stroke="#fff" stroke-width="0.5" stroke-linejoin="round" vector-effect="non-scaling-stroke">4781</text>
<text transform="translate(155.02 81.14) scale(0.956 1)" font-size="18.24" font-weight="400" fill="#fff">만명</text>
<text transform="translate(48.32 111.74) scale(0.909 1)" font-size="13.66" font-weight="400" fill="#f3f1f1">사망 약</text>
<text transform="translate(90.11 112.46) scale(0.696 1)" font-size="24.08" font-weight="400" fill="#fff" stroke="#fff" stroke-width="0.5" stroke-linejoin="round" vector-effect="non-scaling-stroke">312</text>
<text transform="translate(117.96 112.08) scale(0.844 1)" font-size="18.65" font-weight="400" fill="#fff">만</text>
<text transform="translate(132.82 112.37) scale(0.703 1)" font-size="23.50" font-weight="400" fill="#fff" stroke="#fff" stroke-width="0.5" stroke-linejoin="round" vector-effect="non-scaling-stroke">3188</text>
<text transform="translate(169.50 111.80) scale(1.016 1)" font-size="17.47" font-weight="400" fill="#fff">명</text>
<text transform="translate(4.73 370.15) scale(0.877 1)" font-size="19.95" font-weight="350" fill="#3f3b3b">코로나</text>
<text transform="translate(53.58 369.30) scale(0.959 1)" font-size="19.72" font-weight="400" fill="#4f4b4b">19</text>
<text transform="translate(80.11 370.25) scale(1.012 1)" font-size="19.46" font-weight="500" fill="#332f2f">누적</text>
<text transform="translate(120.14 370.34) scale(0.995 1)" font-size="19.57" font-weight="500" fill="#332f2f">발생</text>
<text transform="translate(160.15 370.38) scale(0.932 1)" font-size="20.22" font-weight="350" fill="#332f2f">상위국가</text>
<text transform="translate(448.26 387.60) scale(0.878 1)" font-size="21.16" font-weight="500" fill="#2b2523">주요</text>
<text transform="translate(489.08 387.71) scale(0.910 1)" font-size="19.89" font-weight="500" fill="#2b2523">감시</text>
<text transform="translate(528.55 387.62) scale(0.957 1)" font-size="19.78" font-weight="500" fill="#2b2523">국가</text>
<text transform="translate(76.88 394.17) scale(1.033 1)" font-size="13.33" font-weight="400" fill="#3a3432">누적</text>
<text transform="translate(105.68 394.18) scale(0.986 1)" font-size="13.19" font-weight="400" fill="#3a3432">확진</text>
<text transform="translate(154.46 394.17) scale(0.947 1)" font-size="13.33" font-weight="400" fill="#3a3432">사망</text>
<line x1="5.5" y1="380.8" x2="191" y2="380.8" stroke="#a2a2a4" stroke-width="1.3"/>
<line x1="5.5" y1="397.3" x2="191" y2="397.3" stroke="#a2a2a4" stroke-width="1.3"/>
<line x1="5.5" y1="424.5" x2="191" y2="424.5" stroke="#a2a2a4" stroke-width="1.3"/>
<line x1="5.5" y1="451.6" x2="191" y2="451.6" stroke="#a2a2a4" stroke-width="1.3"/>
<line x1="5.5" y1="478.8" x2="191" y2="478.8" stroke="#a2a2a4" stroke-width="1.3"/>
<line x1="5.5" y1="506.0" x2="191" y2="506.0" stroke="#a2a2a4" stroke-width="1.3"/>
<line x1="5.5" y1="533.2" x2="191" y2="533.2" stroke="#a2a2a4" stroke-width="1.3"/>
<line x1="5.5" y1="560.3" x2="191" y2="560.3" stroke="#a2a2a4" stroke-width="1.3"/>
<line x1="5.5" y1="587.5" x2="191" y2="587.5" stroke="#a2a2a4" stroke-width="1.3"/>
<line x1="5.5" y1="614.7" x2="191" y2="614.7" stroke="#a2a2a4" stroke-width="1.3"/>
<line x1="5.5" y1="641.8" x2="191" y2="641.8" stroke="#a2a2a4" stroke-width="1.3"/>
<line x1="5.5" y1="669.0" x2="191" y2="669.0" stroke="#a2a2a4" stroke-width="1.3"/>
<text transform="translate(5.43 418.20) scale(0.930 1)" font-size="16.90" font-weight="400" fill="#2b2523">미국</text>
<text transform="translate(76.10 418.50) scale(0.675 1)" font-size="22.60" font-weight="400" fill="#b03a26" stroke="#b03a26" stroke-width="0.55" stroke-linejoin="round" vector-effect="non-scaling-stroke">3282</text>
<text transform="translate(110.23 418.75) scale(0.815 1)" font-size="15.90" font-weight="400" fill="#b03a26">만</text>
<rect x="131.9" y="400.30" width="57.3" height="22.0" rx="2" fill="#2e2826"/>
<text transform="translate(139.75 419.10) scale(0.690 1)" font-size="23.30" font-weight="400" fill="#fff" stroke="#fff" stroke-width="0.55" stroke-linejoin="round" vector-effect="non-scaling-stroke">58.6</text>
<text transform="translate(171.44 419.10) scale(0.785 1)" font-size="18.80" font-weight="400" fill="#fff">만</text>
<text transform="translate(5.98 445.37) scale(0.930 1)" font-size="16.90" font-weight="400" fill="#2b2523">인도</text>
<text transform="translate(76.10 445.67) scale(0.675 1)" font-size="22.60" font-weight="400" fill="#b03a26" stroke="#b03a26" stroke-width="0.55" stroke-linejoin="round" vector-effect="non-scaling-stroke">1731</text>
<text transform="translate(110.23 445.92) scale(0.815 1)" font-size="15.90" font-weight="400" fill="#b03a26">만</text>
<rect x="131.9" y="427.47" width="57.3" height="22.0" rx="2" fill="#2e2826"/>
<text transform="translate(139.75 446.27) scale(0.690 1)" font-size="23.30" font-weight="400" fill="#fff" stroke="#fff" stroke-width="0.55" stroke-linejoin="round" vector-effect="non-scaling-stroke">19.5</text>
<text transform="translate(171.44 446.27) scale(0.785 1)" font-size="18.80" font-weight="400" fill="#fff">만</text>
<text transform="translate(6.29 472.54) scale(0.930 1)" font-size="16.90" font-weight="400" fill="#2b2523">브라질</text>
<text transform="translate(76.10 472.84) scale(0.675 1)" font-size="22.60" font-weight="400" fill="#b03a26" stroke="#b03a26" stroke-width="0.55" stroke-linejoin="round" vector-effect="non-scaling-stroke">1434</text>
<text transform="translate(110.23 473.09) scale(0.815 1)" font-size="15.90" font-weight="400" fill="#b03a26">만</text>
<rect x="131.9" y="454.64" width="57.3" height="22.0" rx="2" fill="#2e2826"/>
<text transform="translate(153.16 473.44) scale(0.690 1)" font-size="23.30" font-weight="400" fill="#fff" stroke="#fff" stroke-width="0.55" stroke-linejoin="round" vector-effect="non-scaling-stroke">39</text>
<text transform="translate(171.44 473.44) scale(0.785 1)" font-size="18.80" font-weight="400" fill="#fff">만</text>
<text transform="translate(6.29 499.71) scale(0.930 1)" font-size="16.90" font-weight="400" fill="#2b2523">프랑스</text>
<text transform="translate(84.58 500.01) scale(0.675 1)" font-size="22.60" font-weight="400" fill="#b03a26" stroke="#b03a26" stroke-width="0.55" stroke-linejoin="round" vector-effect="non-scaling-stroke">549</text>
<text transform="translate(110.23 500.26) scale(0.815 1)" font-size="15.90" font-weight="400" fill="#b03a26">만</text>
<rect x="131.9" y="481.81" width="57.3" height="22.0" rx="2" fill="#2e2826"/>
<text transform="translate(139.75 500.61) scale(0.690 1)" font-size="23.30" font-weight="400" fill="#fff" stroke="#fff" stroke-width="0.55" stroke-linejoin="round" vector-effect="non-scaling-stroke">10.2</text>
<text transform="translate(171.44 500.61) scale(0.785 1)" font-size="18.80" font-weight="400" fill="#fff">만</text>
<text transform="translate(5.74 526.88) scale(0.930 1)" font-size="16.90" font-weight="400" fill="#2b2523">러시아</text>
<text transform="translate(84.58 527.18) scale(0.675 1)" font-size="22.60" font-weight="400" fill="#b03a26" stroke="#b03a26" stroke-width="0.55" stroke-linejoin="round" vector-effect="non-scaling-stroke">476</text>
<text transform="translate(110.23 527.43) scale(0.815 1)" font-size="15.90" font-weight="400" fill="#b03a26">만</text>
<rect x="131.9" y="508.98" width="57.3" height="22.0" rx="2" fill="#2e2826"/>
<text transform="translate(139.75 527.78) scale(0.690 1)" font-size="23.30" font-weight="400" fill="#fff" stroke="#fff" stroke-width="0.55" stroke-linejoin="round" vector-effect="non-scaling-stroke">10.8</text>
<text transform="translate(171.44 527.78) scale(0.785 1)" font-size="18.80" font-weight="400" fill="#fff">만</text>
<text transform="translate(5.59 554.05) scale(0.930 1)" font-size="16.90" font-weight="400" fill="#2b2523">터키</text>
<text transform="translate(84.58 554.35) scale(0.675 1)" font-size="22.60" font-weight="400" fill="#b03a26" stroke="#b03a26" stroke-width="0.55" stroke-linejoin="round" vector-effect="non-scaling-stroke">462</text>
<text transform="translate(110.23 554.60) scale(0.815 1)" font-size="15.90" font-weight="400" fill="#b03a26">만</text>
<rect x="131.9" y="536.15" width="57.3" height="22.0" rx="2" fill="#2e2826"/>
<text transform="translate(148.69 554.95) scale(0.690 1)" font-size="23.30" font-weight="400" fill="#fff" stroke="#fff" stroke-width="0.55" stroke-linejoin="round" vector-effect="non-scaling-stroke">3.8</text>
<text transform="translate(171.44 554.95) scale(0.785 1)" font-size="18.80" font-weight="400" fill="#fff">만</text>
<text transform="translate(6.06 581.22) scale(0.930 1)" font-size="16.90" font-weight="400" fill="#2b2523">영국</text>
<text transform="translate(84.58 581.52) scale(0.675 1)" font-size="22.60" font-weight="400" fill="#b03a26" stroke="#b03a26" stroke-width="0.55" stroke-linejoin="round" vector-effect="non-scaling-stroke">440</text>
<text transform="translate(110.23 581.77) scale(0.815 1)" font-size="15.90" font-weight="400" fill="#b03a26">만</text>
<rect x="131.9" y="563.32" width="57.3" height="22.0" rx="2" fill="#2e2826"/>
<text transform="translate(139.75 582.12) scale(0.690 1)" font-size="23.30" font-weight="400" fill="#fff" stroke="#fff" stroke-width="0.55" stroke-linejoin="round" vector-effect="non-scaling-stroke">12.7</text>
<text transform="translate(171.44 582.12) scale(0.785 1)" font-size="18.80" font-weight="400" fill="#fff">만</text>
<text transform="translate(5.74 608.39) scale(0.930 1)" font-size="16.90" font-weight="400" fill="#2b2523">이탈리아</text>
<text transform="translate(84.58 608.69) scale(0.675 1)" font-size="22.60" font-weight="400" fill="#b03a26" stroke="#b03a26" stroke-width="0.55" stroke-linejoin="round" vector-effect="non-scaling-stroke">396</text>
<text transform="translate(110.23 608.94) scale(0.815 1)" font-size="15.90" font-weight="400" fill="#b03a26">만</text>
<rect x="131.9" y="590.49" width="57.3" height="22.0" rx="2" fill="#2e2826"/>
<text transform="translate(140.94 609.29) scale(0.690 1)" font-size="23.30" font-weight="400" fill="#fff" stroke="#fff" stroke-width="0.55" stroke-linejoin="round" vector-effect="non-scaling-stroke">11.9</text>
<text transform="translate(171.44 609.29) scale(0.785 1)" font-size="18.80" font-weight="400" fill="#fff">만</text>
<text transform="translate(6.29 635.56) scale(0.930 1)" font-size="16.90" font-weight="400" fill="#2b2523">스페인</text>
<text transform="translate(84.58 635.86) scale(0.675 1)" font-size="22.60" font-weight="400" fill="#b03a26" stroke="#b03a26" stroke-width="0.55" stroke-linejoin="round" vector-effect="non-scaling-stroke">346</text>
<text transform="translate(110.23 636.11) scale(0.815 1)" font-size="15.90" font-weight="400" fill="#b03a26">만</text>
<rect x="131.9" y="617.66" width="57.3" height="22.0" rx="2" fill="#2e2826"/>
<text transform="translate(148.69 636.46) scale(0.690 1)" font-size="23.30" font-weight="400" fill="#fff" stroke="#fff" stroke-width="0.55" stroke-linejoin="round" vector-effect="non-scaling-stroke">7.7</text>
<text transform="translate(171.44 636.46) scale(0.785 1)" font-size="18.80" font-weight="400" fill="#fff">만</text>
<text transform="translate(6.29 662.73) scale(0.930 1)" font-size="16.90" font-weight="400" fill="#2b2523">독일</text>
<text transform="translate(84.58 663.03) scale(0.675 1)" font-size="22.60" font-weight="400" fill="#b03a26" stroke="#b03a26" stroke-width="0.55" stroke-linejoin="round" vector-effect="non-scaling-stroke">329</text>
<text transform="translate(110.23 663.28) scale(0.815 1)" font-size="15.90" font-weight="400" fill="#b03a26">만</text>
<rect x="131.9" y="644.83" width="57.3" height="22.0" rx="2" fill="#2e2826"/>
<text transform="translate(148.69 663.63) scale(0.690 1)" font-size="23.30" font-weight="400" fill="#fff" stroke="#fff" stroke-width="0.55" stroke-linejoin="round" vector-effect="non-scaling-stroke">8.2</text>
<text transform="translate(171.44 663.63) scale(0.785 1)" font-size="18.80" font-weight="400" fill="#fff">만</text>
<line x1="225.6" y1="397.3" x2="412" y2="397.3" stroke="#a2a2a4" stroke-width="1.3"/>
<line x1="225.6" y1="424.5" x2="412" y2="424.5" stroke="#a2a2a4" stroke-width="1.3"/>
<line x1="225.6" y1="451.6" x2="412" y2="451.6" stroke="#a2a2a4" stroke-width="1.3"/>
<line x1="225.6" y1="478.8" x2="412" y2="478.8" stroke="#a2a2a4" stroke-width="1.3"/>
<line x1="225.6" y1="506.0" x2="412" y2="506.0" stroke="#a2a2a4" stroke-width="1.3"/>
<line x1="225.6" y1="533.2" x2="412" y2="533.2" stroke="#a2a2a4" stroke-width="1.3"/>
<line x1="225.6" y1="560.3" x2="412" y2="560.3" stroke="#a2a2a4" stroke-width="1.3"/>
<line x1="225.6" y1="587.5" x2="412" y2="587.5" stroke="#a2a2a4" stroke-width="1.3"/>
<line x1="225.6" y1="614.7" x2="412" y2="614.7" stroke="#a2a2a4" stroke-width="1.3"/>
<line x1="225.6" y1="641.8" x2="412" y2="641.8" stroke="#a2a2a4" stroke-width="1.3"/>
<line x1="225.6" y1="669.0" x2="412" y2="669.0" stroke="#a2a2a4" stroke-width="1.3"/>
<text transform="translate(228.16 418.20) scale(0.930 1)" font-size="16.90" font-weight="400" fill="#2b2523">아르헨티나</text>
<text transform="translate(308.37 419.20) scale(0.640 1)" font-size="23.00" font-weight="400" fill="#c8475a" stroke="#c8475a" stroke-width="0.2" stroke-linejoin="round" vector-effect="non-scaling-stroke">286</text>
<text transform="translate(333.13 419.45) scale(0.815 1)" font-size="15.90" font-weight="400" fill="#c8475a">만</text>
<rect x="354.3" y="400.30" width="57.6" height="22.0" rx="2" fill="#464244"/>
<text transform="translate(372.64 419.10) scale(0.670 1)" font-size="23.30" font-weight="400" fill="#fff" stroke="#fff" stroke-width="0.3" stroke-linejoin="round" vector-effect="non-scaling-stroke">6.1</text>
<text transform="translate(394.74 419.10) scale(0.785 1)" font-size="18.80" font-weight="400" fill="#fff">만</text>
<text transform="translate(228.31 445.37) scale(0.930 1)" font-size="16.90" font-weight="400" fill="#2b2523">콜롬비아</text>
<text transform="translate(308.37 446.37) scale(0.640 1)" font-size="23.00" font-weight="400" fill="#c8475a" stroke="#c8475a" stroke-width="0.2" stroke-linejoin="round" vector-effect="non-scaling-stroke">277</text>
<text transform="translate(333.13 446.62) scale(0.815 1)" font-size="15.90" font-weight="400" fill="#c8475a">만</text>
<rect x="354.3" y="427.47" width="57.6" height="22.0" rx="2" fill="#464244"/>
<text transform="translate(372.64 446.27) scale(0.670 1)" font-size="23.30" font-weight="400" fill="#fff" stroke="#fff" stroke-width="0.3" stroke-linejoin="round" vector-effect="non-scaling-stroke">7.1</text>
<text transform="translate(394.74 446.27) scale(0.785 1)" font-size="18.80" font-weight="400" fill="#fff">만</text>
<text transform="translate(228.39 472.54) scale(0.930 1)" font-size="16.90" font-weight="400" fill="#2b2523">폴란드</text>
<text transform="translate(308.37 473.54) scale(0.640 1)" font-size="23.00" font-weight="400" fill="#c8475a" stroke="#c8475a" stroke-width="0.2" stroke-linejoin="round" vector-effect="non-scaling-stroke">275</text>
<text transform="translate(333.13 473.79) scale(0.815 1)" font-size="15.90" font-weight="400" fill="#c8475a">만</text>
<rect x="354.3" y="454.64" width="57.6" height="22.0" rx="2" fill="#464244"/>
<text transform="translate(372.64 473.44) scale(0.670 1)" font-size="23.30" font-weight="400" fill="#fff" stroke="#fff" stroke-width="0.3" stroke-linejoin="round" vector-effect="non-scaling-stroke">6.5</text>
<text transform="translate(394.74 473.44) scale(0.785 1)" font-size="18.80" font-weight="400" fill="#fff">만</text>
<text transform="translate(227.84 499.71) scale(0.930 1)" font-size="16.90" font-weight="400" fill="#2b2523">이란</text>
<text transform="translate(308.37 500.71) scale(0.640 1)" font-size="23.00" font-weight="400" fill="#c8475a" stroke="#c8475a" stroke-width="0.2" stroke-linejoin="round" vector-effect="non-scaling-stroke">239</text>
<text transform="translate(333.13 500.96) scale(0.815 1)" font-size="15.90" font-weight="400" fill="#c8475a">만</text>
<rect x="354.3" y="481.81" width="57.6" height="22.0" rx="2" fill="#464244"/>
<text transform="translate(372.64 500.61) scale(0.670 1)" font-size="23.30" font-weight="400" fill="#fff" stroke="#fff" stroke-width="0.3" stroke-linejoin="round" vector-effect="non-scaling-stroke">6.9</text>
<text transform="translate(394.74 500.61) scale(0.785 1)" font-size="18.80" font-weight="400" fill="#fff">만</text>
<text transform="translate(227.76 526.88) scale(0.930 1)" font-size="16.90" font-weight="400" fill="#2b2523">멕시코</text>
<text transform="translate(308.37 527.88) scale(0.640 1)" font-size="23.00" font-weight="400" fill="#c8475a" stroke="#c8475a" stroke-width="0.2" stroke-linejoin="round" vector-effect="non-scaling-stroke">232</text>
<text transform="translate(333.13 528.13) scale(0.815 1)" font-size="15.90" font-weight="400" fill="#c8475a">만</text>
<rect x="354.3" y="508.98" width="57.6" height="22.0" rx="2" fill="#464244"/>
<text transform="translate(363.96 527.78) scale(0.670 1)" font-size="23.30" font-weight="400" fill="#fff" stroke="#fff" stroke-width="0.3" stroke-linejoin="round" vector-effect="non-scaling-stroke">21.4</text>
<text transform="translate(394.74 527.78) scale(0.785 1)" font-size="18.80" font-weight="400" fill="#fff">만</text>
<text transform="translate(228.39 554.05) scale(0.930 1)" font-size="16.90" font-weight="400" fill="#2b2523">우크라이나</text>
<text transform="translate(308.37 555.05) scale(0.640 1)" font-size="23.00" font-weight="400" fill="#c8475a" stroke="#c8475a" stroke-width="0.2" stroke-linejoin="round" vector-effect="non-scaling-stroke">203</text>
<text transform="translate(333.13 555.30) scale(0.815 1)" font-size="15.90" font-weight="400" fill="#c8475a">만</text>
<rect x="354.3" y="536.15" width="57.6" height="22.0" rx="2" fill="#464244"/>
<text transform="translate(372.64 554.95) scale(0.670 1)" font-size="23.30" font-weight="400" fill="#fff" stroke="#fff" stroke-width="0.3" stroke-linejoin="round" vector-effect="non-scaling-stroke">4.2</text>
<text transform="translate(394.74 554.95) scale(0.785 1)" font-size="18.80" font-weight="400" fill="#fff">만</text>
<text transform="translate(228.55 581.22) scale(0.930 1)" font-size="16.90" font-weight="400" fill="#2b2523">페루</text>
<text transform="translate(308.37 582.22) scale(0.640 1)" font-size="23.00" font-weight="400" fill="#c8475a" stroke="#c8475a" stroke-width="0.2" stroke-linejoin="round" vector-effect="non-scaling-stroke">176</text>
<text transform="translate(333.13 582.47) scale(0.815 1)" font-size="15.90" font-weight="400" fill="#c8475a">만</text>
<rect x="354.3" y="563.32" width="57.6" height="22.0" rx="2" fill="#464244"/>
<text transform="translate(372.64 582.12) scale(0.670 1)" font-size="23.30" font-weight="400" fill="#fff" stroke="#fff" stroke-width="0.3" stroke-linejoin="round" vector-effect="non-scaling-stroke">5.9</text>
<text transform="translate(394.74 582.12) scale(0.785 1)" font-size="18.80" font-weight="400" fill="#fff">만</text>
<text transform="translate(228.08 608.39) scale(0.930 1)" font-size="16.90" font-weight="400" fill="#2b2523">인도네시아</text>
<text transform="translate(308.37 609.39) scale(0.640 1)" font-size="23.00" font-weight="400" fill="#c8475a" stroke="#c8475a" stroke-width="0.2" stroke-linejoin="round" vector-effect="non-scaling-stroke">164</text>
<text transform="translate(333.13 609.64) scale(0.815 1)" font-size="15.90" font-weight="400" fill="#c8475a">만</text>
<rect x="354.3" y="590.49" width="57.6" height="22.0" rx="2" fill="#464244"/>
<text transform="translate(372.64 609.29) scale(0.670 1)" font-size="23.30" font-weight="400" fill="#fff" stroke="#fff" stroke-width="0.3" stroke-linejoin="round" vector-effect="non-scaling-stroke">4.4</text>
<text transform="translate(394.74 609.29) scale(0.785 1)" font-size="18.80" font-weight="400" fill="#fff">만</text>
<text transform="translate(228.47 635.56) scale(0.930 1)" font-size="16.90" font-weight="400" fill="#2b2523">체코</text>
<text transform="translate(308.37 636.56) scale(0.640 1)" font-size="23.00" font-weight="400" fill="#c8475a" stroke="#c8475a" stroke-width="0.2" stroke-linejoin="round" vector-effect="non-scaling-stroke">162</text>
<text transform="translate(333.13 636.81) scale(0.815 1)" font-size="15.90" font-weight="400" fill="#c8475a">만</text>
<rect x="354.3" y="617.66" width="57.6" height="22.0" rx="2" fill="#464244"/>
<text transform="translate(372.64 636.46) scale(0.670 1)" font-size="23.30" font-weight="400" fill="#fff" stroke="#fff" stroke-width="0.3" stroke-linejoin="round" vector-effect="non-scaling-stroke">2.9</text>
<text transform="translate(394.74 636.46) scale(0.785 1)" font-size="18.80" font-weight="400" fill="#fff">만</text>
<text transform="translate(227.69 662.73) scale(0.930 1)" font-size="16.90" font-weight="400" fill="#2b2523">남아프리카</text>
<text transform="translate(308.37 663.73) scale(0.640 1)" font-size="23.00" font-weight="400" fill="#c8475a" stroke="#c8475a" stroke-width="0.2" stroke-linejoin="round" vector-effect="non-scaling-stroke">157</text>
<text transform="translate(333.13 663.98) scale(0.815 1)" font-size="15.90" font-weight="400" fill="#c8475a">만</text>
<rect x="354.3" y="644.83" width="57.6" height="22.0" rx="2" fill="#464244"/>
<text transform="translate(372.64 663.63) scale(0.670 1)" font-size="23.30" font-weight="400" fill="#fff" stroke="#fff" stroke-width="0.3" stroke-linejoin="round" vector-effect="non-scaling-stroke">5.4</text>
<text transform="translate(394.74 663.63) scale(0.785 1)" font-size="18.80" font-weight="400" fill="#fff">만</text>
<line x1="446" y1="397.3" x2="632.5" y2="397.3" stroke="#777" stroke-width="1" stroke-dasharray="2.2 1.5"/>
<line x1="446" y1="424.5" x2="632.5" y2="424.5" stroke="#777" stroke-width="1" stroke-dasharray="2.2 1.5"/>
<line x1="446" y1="451.6" x2="632.5" y2="451.6" stroke="#777" stroke-width="1" stroke-dasharray="2.2 1.5"/>
<line x1="446" y1="478.8" x2="632.5" y2="478.8" stroke="#777" stroke-width="1" stroke-dasharray="2.2 1.5"/>
<line x1="446" y1="506.0" x2="632.5" y2="506.0" stroke="#777" stroke-width="1" stroke-dasharray="2.2 1.5"/>
<line x1="446" y1="533.2" x2="632.5" y2="533.2" stroke="#777" stroke-width="1" stroke-dasharray="2.2 1.5"/>
<line x1="446" y1="560.3" x2="632.5" y2="560.3" stroke="#777" stroke-width="1" stroke-dasharray="2.2 1.5"/>
<line x1="446" y1="587.5" x2="632.5" y2="587.5" stroke="#777" stroke-width="1" stroke-dasharray="2.2 1.5"/>
<line x1="446" y1="614.7" x2="632.5" y2="614.7" stroke="#777" stroke-width="1" stroke-dasharray="2.2 1.5"/>
<line x1="446" y1="641.8" x2="632.5" y2="641.8" stroke="#777" stroke-width="1" stroke-dasharray="2.2 1.5"/>
<line x1="446" y1="669.0" x2="632.5" y2="669.0" stroke="#777" stroke-width="1" stroke-dasharray="2.2 1.5"/>
<rect x="443.7" y="560.2" width="192.7" height="27.9" fill="#f3f3f5" stroke="#7b7b7d" stroke-width="1.7"/>
<text transform="translate(447.26 418.20) scale(0.930 1)" font-size="16.90" font-weight="400" fill="#2b2523">필리핀</text>
<text transform="translate(536.06 419.20) scale(0.640 1)" font-size="23.00" font-weight="400" fill="#c8475a" stroke="#c8475a" stroke-width="0.2" stroke-linejoin="round" vector-effect="non-scaling-stroke">99</text>
<text transform="translate(552.63 419.45) scale(0.815 1)" font-size="15.90" font-weight="400" fill="#c8475a">만</text>
<rect x="572.2" y="400.30" width="57.9" height="22.0" rx="2" fill="#464244"/>
<text transform="translate(591.84 419.10) scale(0.670 1)" font-size="23.30" font-weight="400" fill="#fff" stroke="#fff" stroke-width="0.3" stroke-linejoin="round" vector-effect="non-scaling-stroke">1.6</text>
<text transform="translate(613.94 419.10) scale(0.785 1)" font-size="18.80" font-weight="400" fill="#fff">만</text>
<text transform="translate(446.94 445.37) scale(0.930 1)" font-size="16.90" font-weight="400" fill="#2b2523">이스라엘</text>
<text transform="translate(536.06 446.37) scale(0.640 1)" font-size="23.00" font-weight="400" fill="#c8475a" stroke="#c8475a" stroke-width="0.2" stroke-linejoin="round" vector-effect="non-scaling-stroke">83</text>
<text transform="translate(552.63 446.62) scale(0.815 1)" font-size="15.90" font-weight="400" fill="#c8475a">만</text>
<rect x="572.2" y="427.47" width="57.9" height="22.0" rx="2" fill="#464244"/>
<text transform="translate(592.99 446.27) scale(0.670 1)" font-size="23.30" font-weight="400" fill="#fff" stroke="#fff" stroke-width="0.3" stroke-linejoin="round" vector-effect="non-scaling-stroke">6352</text>
<text transform="translate(447.65 472.54) scale(0.930 1)" font-size="16.90" font-weight="400" fill="#2b2523">파키스탄</text>
<text transform="translate(536.06 473.54) scale(0.640 1)" font-size="23.00" font-weight="400" fill="#c8475a" stroke="#c8475a" stroke-width="0.2" stroke-linejoin="round" vector-effect="non-scaling-stroke">80</text>
<text transform="translate(552.63 473.79) scale(0.815 1)" font-size="15.90" font-weight="400" fill="#c8475a">만</text>
<rect x="572.2" y="454.64" width="57.9" height="22.0" rx="2" fill="#464244"/>
<text transform="translate(591.84 473.44) scale(0.670 1)" font-size="23.30" font-weight="400" fill="#fff" stroke="#fff" stroke-width="0.3" stroke-linejoin="round" vector-effect="non-scaling-stroke">1.7</text>
<text transform="translate(613.94 473.44) scale(0.785 1)" font-size="18.80" font-weight="400" fill="#fff">만</text>
<text transform="translate(447.41 499.71) scale(0.930 1)" font-size="16.90" font-weight="400" fill="#2b2523">헝가리</text>
<text transform="translate(536.06 500.71) scale(0.640 1)" font-size="23.00" font-weight="400" fill="#c8475a" stroke="#c8475a" stroke-width="0.2" stroke-linejoin="round" vector-effect="non-scaling-stroke">77</text>
<text transform="translate(552.63 500.96) scale(0.815 1)" font-size="15.90" font-weight="400" fill="#c8475a">만</text>
<rect x="572.2" y="481.81" width="57.9" height="22.0" rx="2" fill="#464244"/>
<text transform="translate(591.84 500.61) scale(0.670 1)" font-size="23.30" font-weight="400" fill="#fff" stroke="#fff" stroke-width="0.3" stroke-linejoin="round" vector-effect="non-scaling-stroke">2.6</text>
<text transform="translate(613.94 500.61) scale(0.785 1)" font-size="18.80" font-weight="400" fill="#fff">만</text>
<text transform="translate(447.18 526.88) scale(0.930 1)" font-size="16.90" font-weight="400" fill="#2b2523">일본</text>
<text transform="translate(518.21 527.88) scale(0.640 1)" font-size="23.00" font-weight="400" fill="#c97682" stroke="#c97682" stroke-width="0.2" stroke-linejoin="round" vector-effect="non-scaling-stroke">57</text>
<text transform="translate(535.39 527.48) scale(0.880 1)" font-size="15.90" font-weight="400" fill="#c97682">만</text>
<text transform="translate(548.26 527.88) scale(0.640 1)" font-size="23.00" font-weight="400" fill="#c97682" stroke="#c97682" stroke-width="0.2" stroke-linejoin="round" vector-effect="non-scaling-stroke">30</text>
<rect x="572.2" y="508.98" width="57.9" height="22.0" rx="2" fill="#636163"/>
<text transform="translate(604.86 527.78) scale(0.670 1)" font-size="23.30" font-weight="400" fill="#fff" stroke="#fff" stroke-width="0.3" stroke-linejoin="round" vector-effect="non-scaling-stroke">1</text>
<text transform="translate(613.94 527.78) scale(0.785 1)" font-size="18.80" font-weight="400" fill="#fff">만</text>
<text transform="translate(446.79 554.05) scale(0.930 1)" font-size="16.90" font-weight="400" fill="#2b2523">네팔</text>
<text transform="translate(511.27 555.05) scale(0.640 1)" font-size="23.00" font-weight="400" fill="#c97682" stroke="#c97682" stroke-width="0.2" stroke-linejoin="round" vector-effect="non-scaling-stroke">30</text>
<text transform="translate(528.44 554.65) scale(0.880 1)" font-size="15.90" font-weight="400" fill="#c97682">만</text>
<text transform="translate(541.31 555.05) scale(0.640 1)" font-size="23.00" font-weight="400" fill="#c97682" stroke="#c97682" stroke-width="0.2" stroke-linejoin="round" vector-effect="non-scaling-stroke">119</text>
<rect x="572.2" y="536.15" width="57.9" height="22.0" rx="2" fill="#636163"/>
<text transform="translate(592.68 554.95) scale(0.670 1)" font-size="23.30" font-weight="400" fill="#fff" stroke="#fff" stroke-width="0.3" stroke-linejoin="round" vector-effect="non-scaling-stroke">3164</text>
<text transform="translate(447.41 581.22) scale(0.930 1)" font-size="16.90" font-weight="400" fill="#2b2523">한국</text>
<text transform="translate(503.08 582.22) scale(0.640 1)" font-size="23.00" font-weight="400" fill="#c97682" stroke="#c97682" stroke-width="0.2" stroke-linejoin="round" vector-effect="non-scaling-stroke">11</text>
<text transform="translate(519.16 581.82) scale(0.880 1)" font-size="15.90" font-weight="400" fill="#c97682">만</text>
<text transform="translate(532.03 582.22) scale(0.640 1)" font-size="23.00" font-weight="400" fill="#c97682" stroke="#c97682" stroke-width="0.2" stroke-linejoin="round" vector-effect="non-scaling-stroke">9387</text>
<rect x="572.2" y="563.32" width="57.9" height="22.0" rx="2" fill="#636163"/>
<text transform="translate(592.99 582.12) scale(0.670 1)" font-size="23.30" font-weight="400" fill="#fff" stroke="#fff" stroke-width="0.3" stroke-linejoin="round" vector-effect="non-scaling-stroke">1817</text>
<text transform="translate(447.49 608.39) scale(0.930 1)" font-size="16.90" font-weight="400" fill="#2b2523">중국</text>
<text transform="translate(518.36 609.39) scale(0.640 1)" font-size="23.00" font-weight="400" fill="#c97682" stroke="#c97682" stroke-width="0.2" stroke-linejoin="round" vector-effect="non-scaling-stroke">9</text>
<text transform="translate(527.35 608.99) scale(0.880 1)" font-size="15.90" font-weight="400" fill="#c97682">만</text>
<text transform="translate(540.22 609.39) scale(0.640 1)" font-size="23.00" font-weight="400" fill="#c97682" stroke="#c97682" stroke-width="0.2" stroke-linejoin="round" vector-effect="non-scaling-stroke">599</text>
<rect x="572.2" y="590.49" width="57.9" height="22.0" rx="2" fill="#636163"/>
<text transform="translate(592.91 609.29) scale(0.670 1)" font-size="23.30" font-weight="400" fill="#fff" stroke="#fff" stroke-width="0.3" stroke-linejoin="round" vector-effect="non-scaling-stroke">4636</text>
<text transform="translate(446.86 635.56) scale(0.930 1)" font-size="16.90" font-weight="400" fill="#2b2523">태국</text>
<text transform="translate(510.10 636.56) scale(0.640 1)" font-size="23.00" font-weight="400" fill="#c97682" stroke="#c97682" stroke-width="0.2" stroke-linejoin="round" vector-effect="non-scaling-stroke">5</text>
<text transform="translate(519.09 636.16) scale(0.880 1)" font-size="15.90" font-weight="400" fill="#c97682">만</text>
<text transform="translate(531.96 636.56) scale(0.640 1)" font-size="23.00" font-weight="400" fill="#c97682" stroke="#c97682" stroke-width="0.2" stroke-linejoin="round" vector-effect="non-scaling-stroke">7508</text>
<rect x="572.2" y="617.66" width="57.9" height="22.0" rx="2" fill="#636163"/>
<text transform="translate(601.60 636.46) scale(0.670 1)" font-size="23.30" font-weight="400" fill="#fff" stroke="#fff" stroke-width="0.3" stroke-linejoin="round" vector-effect="non-scaling-stroke">148</text>
<text transform="translate(446.94 662.73) scale(0.930 1)" font-size="16.90" font-weight="400" fill="#2b2523">베트남</text>
<text transform="translate(531.96 663.73) scale(0.640 1)" font-size="23.00" font-weight="400" fill="#c97682" stroke="#c97682" stroke-width="0.2" stroke-linejoin="round" vector-effect="non-scaling-stroke">2843</text>
<rect x="572.2" y="644.83" width="57.9" height="22.0" rx="2" fill="#636163"/>
<text transform="translate(610.28 663.63) scale(0.670 1)" font-size="23.30" font-weight="400" fill="#fff" stroke="#fff" stroke-width="0.3" stroke-linejoin="round" vector-effect="non-scaling-stroke">35</text>
<text transform="translate(5.17 694.30) scale(1.059 1)" font-size="11.56" font-weight="350" fill="#4a4a4a">자료: 월드오미터, 일본 NHK 집계</text>
<text transform="translate(450.83 686.01) scale(1.005 1)" font-size="11.39" font-weight="350" fill="#3a3a3a">*일본 크루즈내 확진(712명) 포함</text>
<text transform="translate(489.89 698.59) scale(1.603 1)" font-size="21.41" font-weight="700" fill="#8a8a8c" font-style="italic" stroke="#8a8a8c" stroke-width="1.3" stroke-linejoin="round" vector-effect="non-scaling-stroke" opacity="0.5">NEWSIS</text>
<text transform="translate(488.49 697.39) scale(1.624 1)" font-size="21.13" font-weight="700" fill="#ffffff" font-style="italic" stroke="#ffffff" stroke-width="1.3" stroke-linejoin="round" vector-effect="non-scaling-stroke" opacity="0.72">NEWSIS</text>
<text transform="translate(381.66 713.10) scale(0.900 1)" font-size="13.00" font-weight="400" fill="#454545">21.04.26</text>
<text transform="translate(430.60 713.52) scale(0.911 1)" font-size="13.11" font-weight="300" fill="#454545">안지혜</text>
<text transform="translate(468.39 713.52) scale(0.927 1)" font-size="13.11" font-weight="300" fill="#454545">그래픽</text>
<text transform="translate(506.50 713.52) scale(0.822 1)" font-size="13.11" font-weight="300" fill="#454545">기자</text>
<text transform="translate(530.97 713.40) scale(0.846 1)" font-size="13.20" font-weight="400" fill="#454545">hokma@newsis.com</text>
</svg>
</body></html>
